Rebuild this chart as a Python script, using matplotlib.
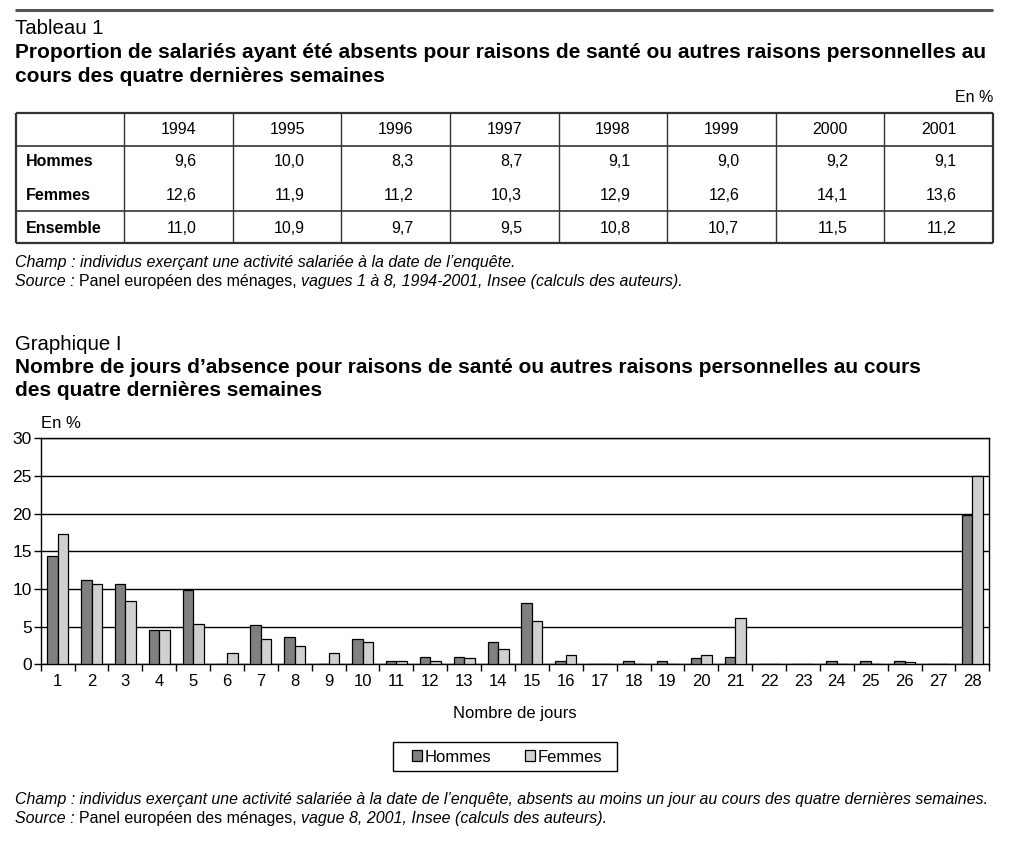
import numpy as np
import matplotlib
matplotlib.use("Agg")
import matplotlib.pyplot as plt
from matplotlib.lines import Line2D
from matplotlib.patches import Rectangle

plt.rcParams['font.family'] = ['Liberation Sans', 'DejaVu Sans']

W, H = 1029, 850

# Tableau 1 data
years = ['1994', '1995', '1996', '1997', '1998', '1999', '2000', '2001']
hommes_tab = ['9,6', '10,0', '8,3', '8,7', '9,1', '9,0', '9,2', '9,1']
femmes_tab = ['12,6', '11,9', '11,2', '10,3', '12,9', '12,6', '14,1', '13,6']
ensemble_tab = ['11,0', '10,9', '9,7', '9,5', '10,8', '10,7', '11,5', '11,2']

# Graphique I data (en %)
jours = [str(d) for d in range(1, 29)]
hommes = [14.4, 11.2, 10.7, 4.6, 9.9, 0.0, 5.2, 3.6, 0.0, 3.4, 0.5, 1.0, 1.0, 2.9,
          8.2, 0.5, 0.0, 0.5, 0.5, 0.8, 1.0, 0.0, 0.0, 0.5, 0.5, 0.5, 0.0, 19.8]
femmes = [17.3, 10.7, 8.4, 4.5, 5.4, 1.5, 3.4, 2.4, 1.5, 2.9, 0.5, 0.5, 0.8, 2.0,
          5.7, 1.3, 0.0, 0.0, 0.0, 1.3, 6.1, 0.0, 0.0, 0.0, 0.0, 0.3, 0.0, 25.0]

fig = plt.figure(figsize=(W / 100, H / 100), dpi=100)


def fx(x):
    return x / W


def fy(y):
    return 1 - y / H


def txt(x, y, s, **kw):
    return fig.text(fx(x), fy(y), s, **kw)


def hline(x0, x1, y, lw=1.2, color='#333333'):
    fig.add_artist(Line2D([fx(x0), fx(x1)], [fy(y), fy(y)], transform=fig.transFigure,
                          lw=lw, color=color, solid_capstyle='butt'))


def vline(x, y0, y1, lw=1.2, color='#333333'):
    fig.add_artist(Line2D([fx(x), fx(x)], [fy(y0), fy(y1)], transform=fig.transFigure,
                          lw=lw, color=color, solid_capstyle='butt'))


renderer = fig.canvas.get_renderer()


def rich(x, y, parts, size=11.5):
    # draw consecutive segments with different styles on one baseline
    for s, style in parts:
        t = txt(x, y + 4, s, fontsize=size, style=style, va='baseline', ha='left')
        bb = t.get_window_extent(renderer=renderer)
        x += bb.width


TITLE = 15
# ---- Tableau 1 ----
hline(15, 993, 10, lw=2.2, color='#555555')
txt(15, 28, 'Tableau 1', fontsize=14.7, va='center')
txt(15, 52, 'Proportion de salariés ayant été absents pour raisons de santé ou autres raisons personnelles au',
    fontsize=TITLE, weight='bold', va='center')
txt(15, 76, 'cours des quatre dernières semaines', fontsize=TITLE, weight='bold', va='center')
txt(993, 98, 'En %', fontsize=11.5, ha='right', va='center')

tx0, tx1 = 16, 993
ty0, ty1, ty2, ty3 = 112.5, 145.7, 211, 242.7
col0 = 124.3
cw = (tx1 - col0) / len(years)
for yy in (ty0, ty3):
    hline(tx0, tx1, yy, lw=1.6)
for yy in (ty1, ty2):
    hline(tx0, tx1, yy, lw=1.2)
vline(tx0, ty0, ty3, lw=1.6)
vline(tx1, ty0, ty3, lw=1.6)
for i in range(len(years)):
    vline(col0 + i * cw, ty0, ty3, lw=1.0)

rows = [('Hommes', hommes_tab, 162), ('Femmes', femmes_tab, 195), ('Ensemble', ensemble_tab, 228)]
for i, yr in enumerate(years):
    txt(col0 + i * cw + 72, 130, yr, fontsize=11.5, ha='right', va='center')
for label, vals, yy in rows:
    txt(26, yy, label, fontsize=11.5, weight='bold', va='center')
    for i, v in enumerate(vals):
        txt(col0 + i * cw + 72, yy, v, fontsize=11.5, ha='right', va='center')

rich(15, 263, [('Champ : individus exerçant une activité salariée à la date de l’enquête.', 'italic')])
rich(15, 282, [('Source : ', 'italic'), ('Panel européen des ménages, ', 'normal'),
               ('vagues 1 à 8, 1994-2001, Insee (calculs des auteurs).', 'italic')])

# ---- Graphique I ----
txt(15, 345, 'Graphique I', fontsize=14.7, va='center')
txt(15, 368, 'Nombre de jours d’absence pour raisons de santé ou autres raisons personnelles au cours',
    fontsize=TITLE, weight='bold', va='center')
txt(15, 391, 'des quatre dernières semaines', fontsize=TITLE, weight='bold', va='center')
txt(41, 424, 'En %', fontsize=12, va='center')

ax = fig.add_axes([fx(40.7), fy(664.3), fx(989.3 - 40.7), (664.3 - 438.3) / H])
x = np.arange(len(jours))
w = 0.31
ax.bar(x - w / 2, hommes, w, color='#808080', edgecolor='black', linewidth=0.9, label='Hommes', zorder=3)
ax.bar(x + w / 2, femmes, w, color='#d0d0d0', edgecolor='black', linewidth=0.9, label='Femmes', zorder=3)
ax.set_xlim(-0.5, len(jours) - 0.5)
ax.set_ylim(0, 30)
ax.set_yticks(range(0, 31, 5))
ax.yaxis.grid(True, color='black', lw=1.0, zorder=1)
ax.set_xticks(np.arange(-0.5, len(jours), 1.0))
ax.set_xticklabels([])
ax.set_xticks(x, minor=True)
ax.set_xticklabels(jours, minor=True)
ax.tick_params(axis='x', which='major', length=5, width=1, direction='out')
ax.tick_params(axis='x', which='minor', length=0, pad=7, labelsize=12)
ax.tick_params(axis='y', length=5, width=1, direction='out', labelsize=12.5, pad=1.5)
for sp in ax.spines.values():
    sp.set_linewidth(1.0)
ax.set_xlabel('Nombre de jours', fontsize=12, labelpad=12)

# legend box drawn separately so its padding can match
fig.add_artist(Rectangle((fx(393), fy(771)), fx(617 - 393), (771 - 742) / H,
                         transform=fig.transFigure, fill=False, edgecolor='black', lw=1.0))
leg = fig.legend(loc='center', bbox_to_anchor=(fx(507), fy(757)), ncol=2, fontsize=12,
                 frameon=False, handlelength=0.6, handleheight=0.6,
                 handletextpad=0.15, columnspacing=2.0, borderpad=0.0)

rich(15, 800, [('Champ : individus exerçant une activité salariée à la date de l’enquête, absents au moins un jour au cours des quatre dernières semaines.', 'italic')], size=11.45)
rich(15, 819, [('Source : ', 'italic'), ('Panel européen des ménages, ', 'normal'),
               ('vague 8, 2001, Insee (calculs des auteurs).', 'italic')])

fig.savefig('out.png', dpi=100)
